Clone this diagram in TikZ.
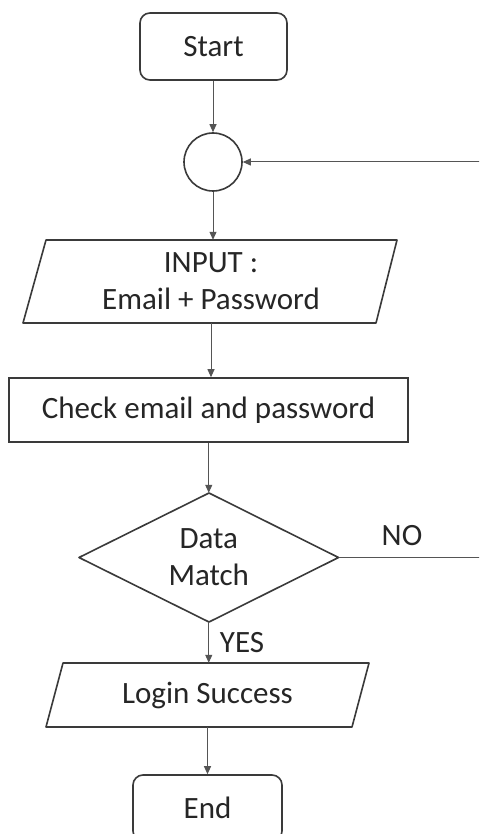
\documentclass[tikz,border=0pt]{standalone}
\usepackage{fontspec}
\setmainfont{Carlito}
\usetikzlibrary{arrows.meta}
\definecolor{edge}{HTML}{3A3A3A}
\definecolor{wire}{HTML}{555555}
\definecolor{ink}{HTML}{262626}
\begin{document}
\begin{tikzpicture}[x=1pt,y=-1pt,
  box/.style={draw=edge,line width=1.6pt,inner sep=0pt,text=ink,align=center},
  label/.style={inner sep=0pt,text=ink,align=center},
  txt/.style={font=\fontsize{31}{37}\selectfont},
  shapeline/.style={draw=edge,line width=1.6pt,line join=round},
  flow/.style={draw=wire,line width=1pt,-{Triangle[length=8pt,width=7pt]}},
  plain/.style={draw=wire,line width=1pt}]
\useasboundingbox (0,0) rectangle (479,834);
\clip (0,0) rectangle (479,834);
\fill[white] (0,0) rectangle (479,834);

% terminal: Start
\node[box,txt,rounded corners=10pt,minimum width=147pt,minimum height=67pt] (start) at (213.5,46.5) {Start};

% connector circle
\node[box,circle,minimum size=58pt] (join) at (213,162) {};

% input parallelogram
\draw[shapeline] (46,240) -- (397,240) -- (376,323) -- (23,323) -- cycle;
\node[label,txt,minimum height=83pt,minimum width=300pt] (input) at (211,281.5) {INPUT :\\Email + Password};

% process box
\node[box,txt,minimum width=399pt,minimum height=64pt] (check) at (208.5,410) {Check email and password};

% decision diamond
\draw[shapeline] (209,493) -- (338.5,557.5) -- (209,622) -- (79,557.5) -- cycle;
\node[label,txt,minimum height=129pt,minimum width=259.5pt] (match) at (208.75,557.5) {Data\\Match};

% output parallelogram
\draw[shapeline] (63,663) -- (369,663) -- (352,727) -- (46,727) -- cycle;
\node[label,txt,minimum height=64pt,minimum width=280pt] (login) at (207.5,695) {Login Success};

% terminal: End
\node[box,txt,rounded corners=10pt,minimum width=149pt,minimum height=66pt] (end) at (207.5,808) {End};

% loose ends of the retry loop
\coordinate (back) at (480,162);
\coordinate (noout) at (480,557.5);

% connectors
\draw[flow] (start.south -| join.north) -- (join.north);
\draw[flow] (back) -- (join.east);
\draw[flow] (join.south) -- (join.south |- input.north);
\draw[flow] (input.south) -- (input.south |- check.north);
\draw[flow] (check.south -| match.north) -- (match.north);
\draw[flow] (match.south) -- (match.south |- login.north);
\draw[flow] (login.south) -- (login.south |- end.north);
\draw[plain] (match.east) -- (noout);

% branch labels
\node[label,txt] (yes) at (242,643) {YES};
\node[label,txt] (no) at (402,536) {NO};
\end{tikzpicture}
\end{document}
